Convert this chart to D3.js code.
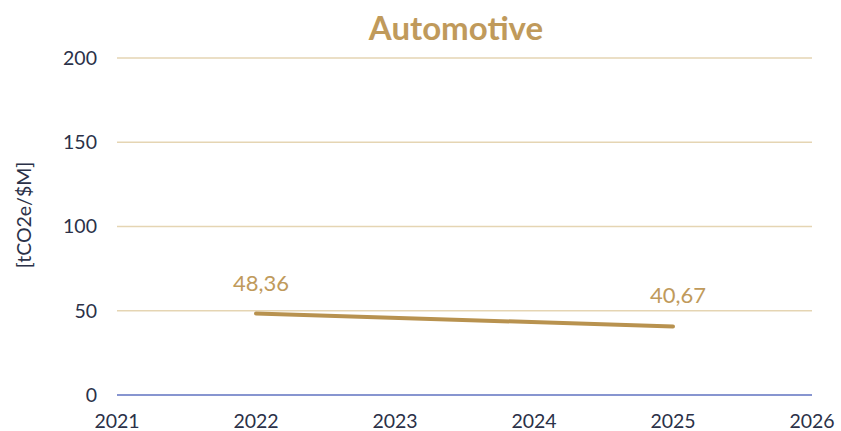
<!DOCTYPE html>
<html><head><meta charset="utf-8">
<script src="https://cdn.jsdelivr.net/npm/d3@7"></script>
<style>body{margin:0;background:#fff;} svg{display:block;}</style>
</head><body>
<script>
const years = [2022, 2025];
const values = [48.36, 40.67];
const labels = ["48,36", "40,67"];
const yTicks = [0, 50, 100, 150, 200];
const xTicks = [2021, 2022, 2023, 2024, 2025, 2026];
const title = "Automotive";
const yTitle = "[tCO2e/$M]";

const W = 841, H = 431;
const font = "Lato, 'Open Sans', sans-serif";
const svg = d3.select("body").append("svg").attr("width", W).attr("height", H);
const x = d3.scaleLinear().domain([2021, 2026]).range([117, 812]);
const y = d3.scaleLinear().domain([0, 200]).range([395, 58]);

// gridlines
svg.append("g").selectAll("line").data(yTicks.filter(d => d > 0)).join("line")
  .attr("x1", x(2021)).attr("x2", x(2026))
  .attr("y1", d => y(d)).attr("y2", d => y(d))
  .attr("stroke", "#E5D5B3").attr("stroke-width", 1.5);
svg.append("line").attr("x1", x(2021)).attr("x2", x(2026))
  .attr("y1", y(0)).attr("y2", y(0)).attr("stroke", "#5F72C0").attr("stroke-width", 1.5);

// y tick labels
svg.append("g").selectAll("text").data(yTicks).join("text")
  .attr("x", 97).attr("y", d => y(d)).attr("dy", "0.35em")
  .attr("text-anchor", "end").attr("font-family", font).attr("font-size", 19.5)
  .attr("fill", "#2B3148").text(d => d);
// x tick labels
svg.append("g").selectAll("text").data(xTicks).join("text")
  .attr("x", d => x(d)).attr("y", 428)
  .attr("text-anchor", "middle").attr("font-family", font).attr("font-size", 19.5)
  .attr("fill", "#2B3148").text(d => d);

// y axis title
svg.append("text").attr("transform", `translate(31,215) rotate(-90)`)
  .attr("text-anchor", "middle").attr("font-family", font).attr("font-size", 19.5)
  .attr("fill", "#2B3148").text(yTitle);

// title
svg.append("text").attr("x", 456).attr("y", 40).attr("text-anchor", "middle")
  .attr("font-family", font).attr("font-weight", "bold").attr("font-size", 33)
  .attr("fill", "#C09A5B").text(title);

// line
const pts = years.map((d, i) => [d, values[i]]);
svg.append("path").datum(pts)
  .attr("d", d3.line().x(d => x(d[0])).y(d => y(d[1])))
  .attr("fill", "none").attr("stroke", "#B8924F").attr("stroke-width", 4).attr("stroke-linecap", "round");

// data labels
svg.append("g").selectAll("text").data(pts).join("text")
  .attr("x", d => x(d[0]) + 5).attr("y", d => y(d[1]) - 23)
  .attr("text-anchor", "middle").attr("font-family", font).attr("font-size", 22)
  .attr("fill", "#C09A5B").text((d, i) => labels[i]);
</script>
</body></html>
